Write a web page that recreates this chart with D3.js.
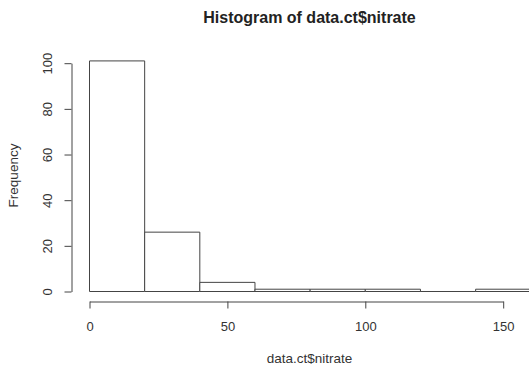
<!DOCTYPE html>
<html>
<head>
<meta charset="utf-8">
<script src="https://cdn.jsdelivr.net/npm/d3@7"></script>
<style>
  html, body { margin: 0; padding: 0; background: #fff; }
  svg { display: block; font-family: "Liberation Sans", Arial, Helvetica, sans-serif; }
</style>
</head>
<body>
<svg id="chart" width="529" height="367"></svg>
<script>
// Histogram bins (nitrate) and their counts
const binStarts = [0, 20, 40, 60, 80, 100, 120, 140];
const binWidth = 20;
const counts = [101, 26, 4, 1, 1, 1, 0, 1];
const xTicks = [0, 50, 100, 150];
const yTicks = [0, 20, 40, 60, 80, 100];

const svg = d3.select("#chart");
const ink = "#444";
const textInk = "#333";

const x = d3.scaleLinear().domain([0, 150]).range([89, 502.7]);
const y = d3.scaleLinear().domain([0, 100]).range([291, 62.7]);

// bars as closed outlines, so an empty bin still shows as a line on the baseline
function barPath(d) {
  const p = d3.path();
  const x0 = x(d.s) + 0.5, x1 = x(d.s + binWidth) + 0.5;
  const y0 = y(0) + 0.5, y1 = y(d.c) + 0.5;
  p.moveTo(x0, y0);
  p.lineTo(x0, y1);
  p.lineTo(x1, y1);
  p.lineTo(x1, y0);
  p.closePath();
  return p.toString();
}

svg.append("g")
  .selectAll("path")
  .data(binStarts.map((s, i) => ({ s, c: counts[i] })))
  .join("path")
  .attr("d", barPath)
  .attr("fill", "#fff")
  .attr("stroke", ink)
  .attr("stroke-width", 1);

// x axis
const xAxis = svg.append("g")
  .attr("transform", "translate(0.5,301.5)")
  .call(d3.axisBottom(x).tickValues(xTicks).tickSize(7).tickSizeOuter(0).tickFormat(d3.format("d")));
xAxis.selectAll("path, line").attr("stroke", ink);
xAxis.selectAll("text")
  .attr("y", 20)
  .attr("fill", textInk)
  .style("font-size", "13px");

// y axis
const yAxis = svg.append("g")
  .attr("transform", "translate(71.5,0.5)")
  .call(d3.axisLeft(y).tickValues(yTicks).tickSize(7).tickSizeOuter(0).tickFormat(d3.format("d")));
yAxis.selectAll("path, line").attr("stroke", ink);
yAxis.selectAll("text")
  .attr("transform", "rotate(-90)")
  .attr("text-anchor", "middle")
  .attr("x", 0)
  .attr("y", -24)
  .attr("dy", "0.35em")
  .attr("fill", textInk)
  .style("font-size", "13px");
svg.selectAll(".domain").attr("fill", "none");

// title and axis labels
svg.append("text")
  .attr("x", 309.5).attr("y", 23)
  .attr("text-anchor", "middle")
  .attr("fill", "#222")
  .style("font-size", "16px").style("font-weight", "bold")
  .text("Histogram of data.ct$nitrate");

svg.append("text")
  .attr("x", 309.5).attr("y", 363)
  .attr("text-anchor", "middle")
  .attr("fill", textInk)
  .style("font-size", "13.5px")
  .text("data.ct$nitrate");

svg.append("text")
  .attr("transform", "translate(18,175.5) rotate(-90)")
  .attr("text-anchor", "middle")
  .attr("fill", textInk)
  .style("font-size", "13.5px")
  .text("Frequency");
</script>
</body>
</html>
